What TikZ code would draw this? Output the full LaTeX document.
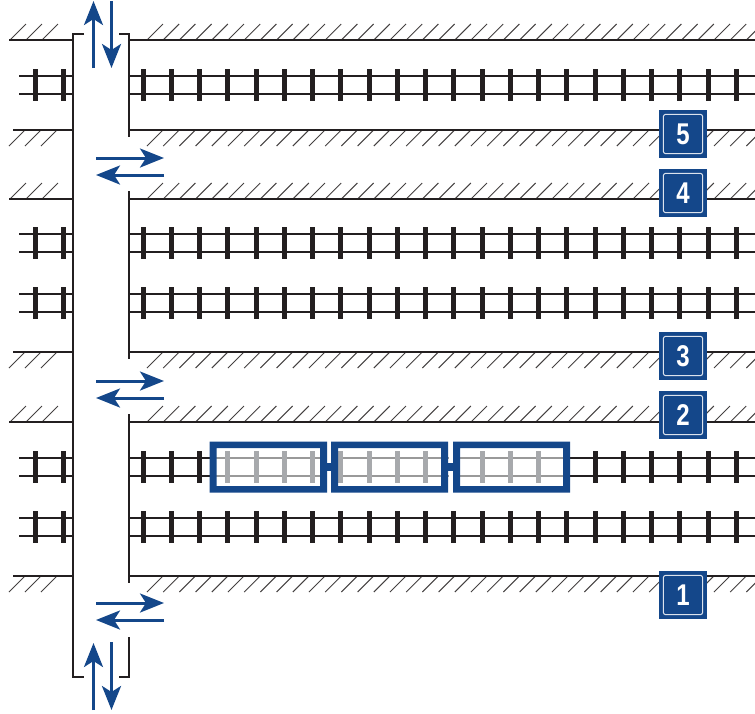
\documentclass[tikz,border=0pt]{standalone}
\usepackage{fontspec}
\setmainfont{Liberation Sans}
\usetikzlibrary{arrows.meta}
\definecolor{navy}{HTML}{14478A}
\definecolor{ink}{HTML}{231F20}
\definecolor{tiegray}{HTML}{A7A9AC}
\definecolor{railgray}{HTML}{999999}
\tikzset{
  wall/.style={draw=ink,line width=2pt},
  hatchline/.style={draw=ink!85,line width=1pt},
  railline/.style={draw=ink,line width=2pt},
  tieline/.style={draw=ink,line width=5pt},
  graytie/.style={draw=tiegray,line width=5pt},
  grayrail/.style={draw=railgray,line width=2pt},
  flow/.style={draw=navy,line width=3pt,-{Stealth[length=24pt,width=19pt,inset=6pt]}},
  car/.style={fill=navy,even odd rule},
  signbox/.style={fill=navy,minimum width=48pt,minimum height=48pt,inner sep=0pt,
     text=white,font=\fontsize{30}{30}\selectfont\bfseries},
}
\newcommand{\signdigit}[1]{\scalebox{0.8}[1]{#1}}
\begin{document}
\begin{tikzpicture}[x=1pt,y=-1pt]
\useasboundingbox (0,0) rectangle (755,713);
\begin{scope}
\clip (0,0) rectangle (755,713);
% hatching above a platform edge
\foreach \y in {40,199,422}{
  \foreach \x in {10,26,42}{\draw[hatchline] (\x,\y) -- ++(16,-16);}
  \foreach \k in {0,...,37}{\draw[hatchline] ({147+16.2*\k},\y) -- ++(16,-16);}
}
% hatching below a platform edge
\foreach \y in {130,352,576}{
  \foreach \x in {9,25,41}{\draw[hatchline] (\x,\y+16) -- ++(16,-16);}
  \foreach \k in {0,...,37}{\draw[hatchline] ({147+16.2*\k},\y+16) -- ++(16,-16);}
}
% platform edges
\foreach \y/\xl in {40/9,130/13,199/9,352/13,422/9,576/13}{
  \draw[wall] (\xl,\y) -- (73,\y);
  \draw[wall] (129,\y) -- (755,\y);
}
% tracks
\foreach \y in {85,243,303,467,527}{
  \draw[railline] (19,\y-9) -- (73,\y-9);
  \draw[railline] (19,\y+9) -- (73,\y+9);
  \draw[railline] (129,\y-9) -- (755,\y-9);
  \draw[railline] (129,\y+9) -- (755,\y+9);
  \foreach \x in {35,63}{\draw[tieline] (\x,\y-16) -- (\x,\y+16);}
  \foreach \k in {0,...,21}{\draw[tieline] ({143+28.25*\k},\y-16) -- ({143+28.25*\k},\y+16);}
}
% train
\fill[white] (213,445) rectangle (566,489);
\draw[grayrail] (213,458) -- (566,458);
\draw[grayrail] (213,476) -- (566,476);
\foreach \k in {3,...,15}{\draw[graytie] ({143+28.25*\k},451) -- ({143+28.25*\k},483);}
\fill[white] (327,438) rectangle (331,496);
\fill[white] (449,438) rectangle (453,496);
\fill[navy] (324,463) rectangle (334,471);
\fill[navy] (446,463) rectangle (456,471);
\fill[car] (209.5,441.5) rectangle (327,492.5) (216.5,448) rectangle (320,486);
\fill[car] (331,441.5) rectangle (448,492.5) (338,448) rectangle (441,486);
\fill[car] (453,441.5) rectangle (570,492.5) (460,448) rectangle (563,486);
% corridor walls
\fill[white] (74,0) rectangle (128,713);
\draw[wall] (84,34) -- (73,34) -- (73,677) -- (84,677);
\draw[wall] (119,34) -- (129,34) -- (129,137);
\draw[wall] (129,191) -- (129,359);
\draw[wall] (129,414) -- (129,583);
\draw[wall] (129,637) -- (129,677) -- (119,677);
\end{scope}
% flows
\draw[flow] (93.5,68) -- (93.5,1);
\draw[flow] (111.5,1) -- (111.5,68);
\foreach \y in {158,381,603}{
  \draw[flow] (96,\y) -- (164,\y);
  \draw[flow] (164,\y+17) -- (96,\y+17);
}
\draw[flow] (93.5,710) -- (93.5,643);
\draw[flow] (111.5,642) -- (111.5,710);
% platform signs
\foreach \n/\yc in {5/134,4/193,3/356,2/415,1/595}{
  \node[signbox] (sign\n) at (683,\yc) {\signdigit{\n}};
  \draw[white!85!navy,line width=1pt,rounded corners=2.5pt] ([xshift=4.5pt,yshift=4.5pt]sign\n.south west) rectangle ([xshift=-4.5pt,yshift=-4.5pt]sign\n.north east);
}
\end{tikzpicture}
\end{document}
